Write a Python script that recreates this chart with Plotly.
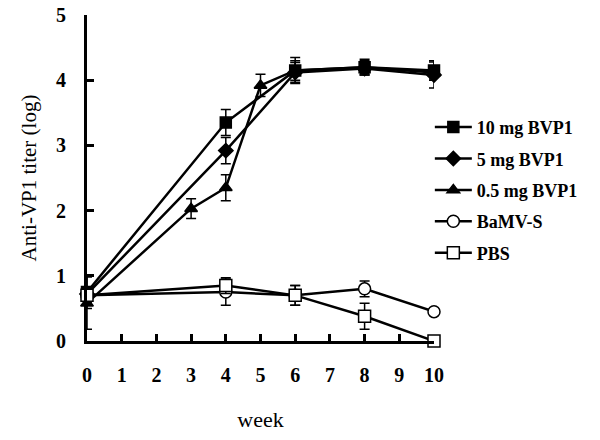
import plotly.graph_objects as go

names = ["10 mg BVP1", "5 mg BVP1", "0.5 mg BVP1", "BaMV-S", "PBS"]
symbols = ["square", "diamond", "triangle-up", "circle", "square"]
fills = ["black", "black", "black", "white", "white"]

weeks_10 = [0, 4, 6, 8, 10]
vals_10 = [0.75, 3.35, 4.15, 4.2, 4.15]
err_10 = [0.25, 0.2, 0.2, 0.12, 0.15]

weeks_5 = [0, 4, 6, 8, 10]
vals_5 = [0.72, 2.92, 4.12, 4.18, 4.08]
err_5 = [0.1, 0.2, 0.15, 0.1, 0.2]

weeks_05 = [0, 3, 4, 5, 6, 8, 10]
vals_05 = [0.58, 2.03, 2.35, 3.92, 4.15, 4.2, 4.12]
err_05 = [0.4, 0.15, 0.2, 0.17, 0.15, 0.1, 0.1]

weeks_bamv = [0, 4, 6, 8, 10]
vals_bamv = [0.7, 0.75, 0.7, 0.8, 0.45]
err_bamv = [0.1, 0.2, 0.15, 0.12, 0.05]

weeks_pbs = [0, 4, 6, 8, 10]
vals_pbs = [0.7, 0.85, 0.7, 0.38, 0.0]
err_pbs = [0.1, 0.12, 0.15, 0.2, 0.03]

series = [
    (weeks_10, vals_10, err_10),
    (weeks_5, vals_5, err_5),
    (weeks_05, vals_05, err_05),
    (weeks_bamv, vals_bamv, err_bamv),
    (weeks_pbs, vals_pbs, err_pbs),
]

x_ticks = list(range(0, 11))
y_ticks = [0, 1, 2, 3, 4, 5]

fig = go.Figure()
for name, sym, fill, (xs, ys, es) in zip(names, symbols, fills, series):
    fig.add_trace(go.Scatter(
        x=xs, y=ys, name=name, mode="lines+markers",
        legendgroup=name,
        line=dict(color="black", width=2.5),
        marker=dict(symbol=sym, size=12 if fill == "white" else 11, color=fill,
                    line=dict(color="black", width=1.5)),
        error_y=dict(type="data", array=es, visible=True, color="black", thickness=1.5, width=5),
        cliponaxis=False,
    ))

font_fam = "Liberation Serif"
fig.update_layout(
    width=600, height=440,
    margin=dict(l=87, r=166, t=15, b=99),
    paper_bgcolor="white", plot_bgcolor="white",
    font=dict(family=font_fam, color="black"),
    showlegend=True,
    legend=dict(x=0.988, y=0.712, xanchor="left", yanchor="top",
                font=dict(family=font_fam, size=18, color="black", weight="bold"),
                tracegroupgap=5, itemwidth=37, bgcolor="rgba(0,0,0,0)"),
    xaxis=dict(range=[0, 10], tickvals=x_ticks, ticks="inside", ticklen=7, tickwidth=2.5,
               tickcolor="black", showline=True, linecolor="black", linewidth=3,
               showgrid=False, zeroline=False, automargin=False,
               tickfont=dict(family=font_fam, size=20, color="black", weight="bold"),
               ticklabelstandoff=14,
               title=dict(text="week", font=dict(family=font_fam, size=22, color="black"), standoff=27)),
    yaxis=dict(range=[0, 5], tickvals=y_ticks, ticks="inside", ticklen=7, tickwidth=2.5,
               tickcolor="black", showline=True, linecolor="black", linewidth=3,
               showgrid=False, zeroline=False, automargin=False,
               tickfont=dict(family=font_fam, size=20, color="black", weight="bold"),
               ticklabelstandoff=14,
               title=dict(text="Anti-VP1 titer (log)", font=dict(family=font_fam, size=21, color="black"), standoff=14)),
)

fig.write_html("out.html", config={"displayModeBar": False},
               post_script="document.body.style.margin='0';document.body.style.overflow='hidden';")
